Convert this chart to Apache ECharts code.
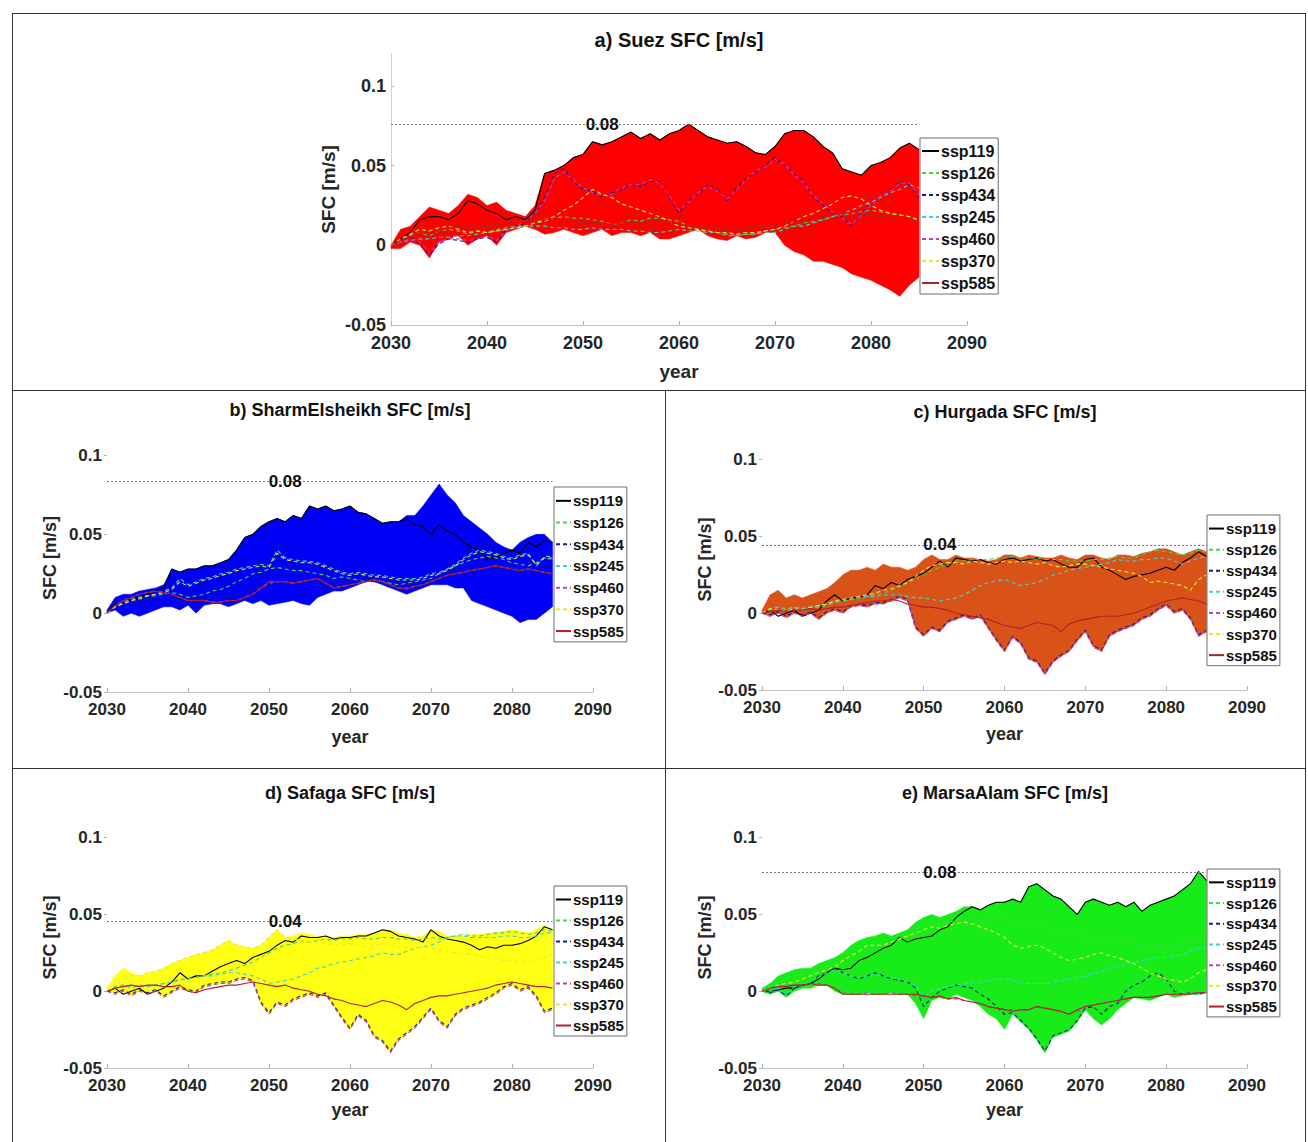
<!DOCTYPE html>
<html>
<head>
<meta charset="utf-8">
<script src="https://cdn.jsdelivr.net/npm/echarts@6/dist/echarts.min.js"></script>
<style>
html,body{margin:0;padding:0;background:#fff;}
#chart{width:1308px;height:1142px;}
</style>
</head>
<body>
<div id="chart"></div>
<script>
// ---------------- DATA ----------------
const years = [2030,2031,2032,2033,2034,2035,2036,2037,2038,2039,
  2040,2041,2042,2043,2044,2045,2046,2047,2048,2049,
  2050,2051,2052,2053,2054,2055,2056,2057,2058,2059,
  2060,2061,2062,2063,2064,2065,2066,2067,2068,2069,
  2070,2071,2072,2073,2074,2075,2076,2077,2078,2079,
  2080,2081,2082,2083,2084,2085];
const scenarioNames = ['ssp119','ssp126','ssp434','ssp245','ssp460','ssp370','ssp585'];
const xTicks = [2030,2040,2050,2060,2070,2080,2090];
const yTicks = [-0.05,0,0.05,0.1];

// a) Suez
const suezUpper = [0.000,0.010,0.012,0.018,0.024,0.022,0.020,0.025,0.032,0.030,
  0.025,0.027,0.022,0.020,0.018,0.025,0.045,0.047,0.050,0.055,
  0.057,0.065,0.063,0.065,0.068,0.071,0.067,0.070,0.066,0.070,
  0.072,0.076,0.072,0.068,0.066,0.064,0.065,0.062,0.058,0.057,
  0.062,0.070,0.072,0.072,0.068,0.062,0.058,0.048,0.046,0.044,
  0.050,0.052,0.055,0.061,0.064,0.060];
const suezLower = [-0.002,-0.002,0.002,0.000,-0.008,0.002,0.004,0.006,0.000,0.004,
  0.006,0.000,0.008,0.010,0.012,0.010,0.007,0.008,0.010,0.008,
  0.006,0.008,0.010,0.006,0.008,0.008,0.006,0.008,0.004,0.004,
  0.006,0.008,0.010,0.006,0.004,0.003,0.006,0.004,0.005,0.008,
  0.008,0.000,-0.004,-0.006,-0.010,-0.010,-0.012,-0.014,-0.018,-0.020,
  -0.022,-0.025,-0.028,-0.032,-0.025,-0.020];
const suez119 = [0.000,0.004,0.008,0.016,0.018,0.018,0.016,0.020,0.028,0.026,
  0.022,0.020,0.016,0.018,0.016,0.022,0.045,0.047,0.050,0.055,
  0.057,0.065,0.063,0.065,0.068,0.071,0.067,0.070,0.066,0.070,
  0.072,0.076,0.072,0.068,0.066,0.064,0.065,0.062,0.058,0.057,
  0.062,0.070,0.072,0.072,0.068,0.062,0.058,0.048,0.046,0.044,
  0.050,0.052,0.055,0.061,0.064,0.060];
const suez126 = [0.000,0.003,0.006,0.008,0.006,0.009,0.010,0.009,0.007,0.009,
  0.008,0.010,0.011,0.012,0.012,0.014,0.015,0.017,0.018,0.017,
  0.017,0.016,0.015,0.013,0.014,0.016,0.015,0.017,0.017,0.016,
  0.015,0.012,0.010,0.009,0.008,0.006,0.006,0.007,0.007,0.009,
  0.010,0.011,0.012,0.014,0.015,0.016,0.018,0.019,0.020,0.021,
  0.022,0.021,0.020,0.019,0.018,0.015];
const suez434 = [0.000,0.003,0.005,0.001,-0.006,0.001,0.004,0.003,0.002,0.004,
  0.005,0.002,0.010,0.012,0.014,0.020,0.030,0.045,0.048,0.040,
  0.035,0.034,0.030,0.033,0.035,0.038,0.037,0.040,0.040,0.030,
  0.020,0.028,0.032,0.038,0.035,0.028,0.036,0.042,0.046,0.050,
  0.055,0.050,0.045,0.040,0.030,0.025,0.020,0.018,0.012,0.020,
  0.026,0.030,0.035,0.040,0.038,0.030];
const suez245 = [0.000,0.002,0.003,0.004,0.004,0.005,0.005,0.006,0.006,0.007,
  0.008,0.009,0.010,0.011,0.012,0.012,0.012,0.011,0.011,0.010,
  0.010,0.011,0.010,0.010,0.010,0.009,0.009,0.008,0.008,0.009,
  0.010,0.009,0.009,0.008,0.008,0.007,0.006,0.007,0.007,0.008,
  0.008,0.010,0.012,0.012,0.014,0.016,0.018,0.020,0.022,0.025,
  0.027,0.030,0.033,0.035,0.038,0.036];
const suez460 = [0.000,0.002,0.004,0.002,-0.005,0.002,0.004,0.004,0.003,0.004,
  0.006,0.003,0.009,0.012,0.015,0.020,0.028,0.042,0.046,0.041,
  0.036,0.033,0.031,0.032,0.036,0.038,0.038,0.041,0.039,0.031,
  0.022,0.027,0.033,0.037,0.034,0.029,0.035,0.041,0.047,0.049,
  0.054,0.051,0.044,0.039,0.031,0.026,0.021,0.017,0.013,0.019,
  0.025,0.031,0.034,0.039,0.039,0.031];
const suez370 = [0.000,0.004,0.007,0.010,0.009,0.011,0.012,0.010,0.008,0.009,
  0.008,0.009,0.010,0.011,0.012,0.014,0.016,0.018,0.022,0.025,
  0.030,0.035,0.032,0.030,0.026,0.024,0.022,0.020,0.018,0.015,
  0.012,0.011,0.010,0.009,0.008,0.008,0.007,0.008,0.008,0.009,
  0.010,0.012,0.015,0.018,0.020,0.023,0.026,0.030,0.031,0.029,
  0.025,0.022,0.020,0.019,0.018,0.016];
const suez585 = [0.000,0.003,0.005,0.008,0.007,0.009,0.011,0.012,0.010,0.011,
  0.012,0.013,0.014,0.015,0.015,0.016,0.016,0.017,0.016,0.015,
  0.014,0.015,0.014,0.013,0.014,0.015,0.014,0.015,0.016,0.015,
  0.013,0.012,0.011,0.010,0.010,0.009,0.009,0.010,0.011,0.012,
  0.013,0.014,0.015,0.016,0.017,0.018,0.019,0.020,0.021,0.020,
  0.019,0.018,0.017,0.016,0.016,0.015];

// b) SharmElsheikh
const sharmUpper = [0.002,0.010,0.012,0.012,0.014,0.015,0.016,0.018,0.028,0.026,
  0.028,0.028,0.030,0.030,0.032,0.034,0.040,0.048,0.050,0.055,
  0.058,0.060,0.058,0.062,0.060,0.068,0.066,0.068,0.065,0.066,
  0.068,0.064,0.063,0.060,0.057,0.058,0.058,0.062,0.062,0.068,
  0.075,0.082,0.075,0.070,0.062,0.058,0.054,0.050,0.045,0.042,
  0.040,0.045,0.048,0.050,0.050,0.045];
const sharmLower = [0.000,0.002,-0.002,0.000,-0.002,0.000,0.002,0.004,0.004,0.002,
  0.005,0.000,0.005,0.006,0.006,0.004,0.006,0.008,0.006,0.008,
  0.005,0.006,0.007,0.008,0.006,0.005,0.010,0.012,0.014,0.014,
  0.016,0.018,0.020,0.020,0.018,0.016,0.014,0.012,0.014,0.016,
  0.018,0.018,0.018,0.016,0.016,0.008,0.006,0.004,0.002,0.000,
  -0.002,-0.006,-0.004,-0.004,0.000,0.004];
const sharm119 = [0.000,0.006,0.006,0.008,0.010,0.012,0.014,0.016,0.028,0.026,
  0.028,0.028,0.030,0.030,0.032,0.034,0.040,0.048,0.050,0.055,
  0.058,0.060,0.058,0.062,0.060,0.068,0.066,0.068,0.065,0.066,
  0.068,0.064,0.063,0.060,0.057,0.058,0.058,0.060,0.056,0.055,
  0.050,0.056,0.052,0.050,0.045,0.042,0.040,0.034,0.035,0.038,
  0.040,0.038,0.045,0.042,0.046,0.045];
const sharm126 = [0.000,0.004,0.007,0.009,0.010,0.011,0.011,0.012,0.013,0.012,
  0.010,0.011,0.012,0.014,0.015,0.017,0.020,0.022,0.025,0.026,
  0.028,0.029,0.028,0.027,0.027,0.026,0.025,0.024,0.022,0.023,
  0.022,0.021,0.020,0.021,0.020,0.019,0.018,0.019,0.020,0.021,
  0.022,0.025,0.028,0.030,0.032,0.034,0.035,0.036,0.035,0.034,
  0.032,0.031,0.030,0.032,0.035,0.034];
const sharm434 = [0.000,0.005,0.006,0.007,0.008,0.009,0.010,0.010,0.011,0.010,
  0.009,0.008,0.009,0.010,0.010,0.011,0.012,0.014,0.015,0.016,
  0.018,0.019,0.019,0.020,0.021,0.021,0.020,0.019,0.018,0.019,
  0.020,0.021,0.021,0.020,0.019,0.018,0.017,0.018,0.019,0.020,
  0.021,0.023,0.025,0.026,0.027,0.028,0.029,0.030,0.031,0.030,
  0.029,0.028,0.028,0.027,0.026,0.025];
const sharm245 = [0.000,0.004,0.006,0.008,0.010,0.011,0.012,0.014,0.016,0.022,
  0.018,0.020,0.022,0.023,0.025,0.026,0.028,0.029,0.030,0.031,
  0.030,0.040,0.035,0.034,0.033,0.033,0.032,0.030,0.028,0.026,
  0.025,0.026,0.025,0.024,0.024,0.023,0.022,0.022,0.022,0.023,
  0.025,0.026,0.028,0.031,0.035,0.038,0.040,0.039,0.038,0.036,
  0.035,0.037,0.038,0.030,0.036,0.036];
const sharm460 = [0.000,0.005,0.008,0.010,0.012,0.013,0.014,0.013,0.012,0.010,
  0.008,0.008,0.008,0.007,0.007,0.008,0.008,0.010,0.012,0.016,
  0.019,0.020,0.020,0.019,0.020,0.021,0.022,0.019,0.016,0.017,
  0.018,0.019,0.020,0.021,0.020,0.018,0.016,0.016,0.017,0.018,
  0.020,0.022,0.024,0.025,0.026,0.027,0.028,0.029,0.030,0.029,
  0.028,0.027,0.028,0.027,0.026,0.025];
const sharm370 = [0.000,0.004,0.006,0.008,0.009,0.011,0.012,0.013,0.015,0.020,
  0.017,0.019,0.021,0.022,0.024,0.025,0.027,0.028,0.029,0.030,
  0.029,0.038,0.034,0.033,0.032,0.032,0.031,0.029,0.027,0.025,
  0.024,0.025,0.024,0.023,0.023,0.022,0.021,0.021,0.021,0.022,
  0.024,0.025,0.027,0.030,0.034,0.037,0.039,0.038,0.037,0.035,
  0.034,0.036,0.037,0.031,0.035,0.035];
const sharm585 = [0.000,0.005,0.008,0.010,0.012,0.013,0.014,0.013,0.012,0.010,
  0.008,0.008,0.008,0.007,0.007,0.008,0.008,0.010,0.012,0.016,
  0.020,0.020,0.020,0.019,0.020,0.021,0.022,0.019,0.016,0.017,
  0.018,0.019,0.020,0.021,0.020,0.018,0.016,0.015,0.017,0.018,
  0.020,0.022,0.024,0.025,0.026,0.027,0.028,0.029,0.030,0.029,
  0.028,0.027,0.028,0.027,0.026,0.025];

// c) Hurgada
const hurgUpper = [0.002,0.012,0.015,0.010,0.012,0.010,0.012,0.014,0.016,0.020,
  0.025,0.028,0.028,0.030,0.028,0.032,0.030,0.030,0.028,0.030,
  0.035,0.038,0.035,0.035,0.038,0.036,0.036,0.035,0.034,0.035,
  0.038,0.038,0.036,0.038,0.037,0.036,0.036,0.038,0.036,0.035,
  0.038,0.038,0.036,0.035,0.038,0.038,0.037,0.039,0.040,0.042,
  0.042,0.040,0.038,0.040,0.042,0.040];
const hurgLower = [0.000,-0.002,0.000,-0.003,0.000,-0.002,0.000,-0.004,0.000,0.002,
  0.000,0.004,0.005,0.004,0.006,0.006,0.008,0.010,0.008,-0.010,
  -0.015,-0.010,-0.012,-0.006,-0.004,-0.002,-0.004,-0.002,-0.010,-0.018,
  -0.025,-0.016,-0.020,-0.030,-0.032,-0.040,-0.032,-0.028,-0.025,-0.018,
  -0.012,-0.022,-0.025,-0.015,-0.012,-0.010,-0.008,-0.004,-0.002,0.002,
  0.005,0.000,0.002,-0.004,-0.015,-0.012];
const hurg119 = [0.000,0.002,-0.002,0.000,0.002,-0.002,0.000,0.002,0.008,0.012,
  0.008,0.010,0.010,0.012,0.018,0.016,0.020,0.018,0.022,0.024,
  0.026,0.030,0.034,0.030,0.036,0.035,0.034,0.035,0.033,0.032,
  0.035,0.036,0.034,0.035,0.036,0.034,0.035,0.032,0.030,0.030,
  0.035,0.036,0.030,0.028,0.025,0.022,0.024,0.025,0.026,0.028,
  0.030,0.028,0.033,0.036,0.040,0.037];
const hurg126 = [0.000,0.002,0.004,0.003,0.004,0.003,0.004,0.005,0.006,0.008,
  0.008,0.009,0.010,0.011,0.012,0.013,0.015,0.017,0.020,0.022,
  0.025,0.028,0.030,0.032,0.034,0.034,0.035,0.035,0.035,0.036,
  0.036,0.037,0.036,0.036,0.036,0.035,0.035,0.035,0.034,0.034,
  0.034,0.035,0.035,0.036,0.037,0.036,0.036,0.038,0.040,0.041,
  0.040,0.039,0.038,0.039,0.041,0.040];
const hurg434 = [0.000,-0.001,0.001,-0.002,0.001,-0.001,0.001,-0.003,0.001,0.003,
  0.001,0.005,0.006,0.005,0.007,0.007,0.009,0.011,0.009,-0.009,
  -0.014,-0.009,-0.011,-0.005,-0.003,-0.001,-0.003,-0.001,-0.009,-0.017,
  -0.024,-0.015,-0.019,-0.029,-0.031,-0.039,-0.031,-0.027,-0.024,-0.017,
  -0.011,-0.021,-0.024,-0.014,-0.011,-0.009,-0.007,-0.003,-0.001,0.003,
  0.006,0.001,0.003,-0.003,-0.014,-0.011];
const hurg245 = [0.000,0.003,0.004,0.002,0.004,0.003,0.004,0.004,0.005,0.007,
  0.008,0.009,0.010,0.011,0.011,0.012,0.012,0.012,0.011,0.010,
  0.010,0.009,0.008,0.009,0.010,0.012,0.015,0.018,0.020,0.021,
  0.022,0.020,0.018,0.019,0.020,0.022,0.025,0.026,0.028,0.029,
  0.030,0.031,0.032,0.033,0.035,0.034,0.034,0.035,0.035,0.036,
  0.036,0.034,0.032,0.034,0.036,0.037];
const hurg460 = [0.000,-0.002,0.000,-0.003,0.000,-0.002,0.000,-0.004,0.000,0.002,
  0.000,0.004,0.005,0.004,0.006,0.006,0.008,0.010,0.008,-0.010,
  -0.015,-0.010,-0.012,-0.006,-0.004,-0.002,-0.004,-0.002,-0.010,-0.018,
  -0.025,-0.016,-0.020,-0.030,-0.032,-0.040,-0.032,-0.028,-0.025,-0.018,
  -0.012,-0.022,-0.025,-0.015,-0.012,-0.010,-0.008,-0.004,-0.002,0.002,
  0.005,0.000,0.002,-0.004,-0.015,-0.012];
const hurg370 = [0.000,0.003,0.002,0.001,0.003,0.002,0.004,0.005,0.006,0.008,
  0.009,0.010,0.011,0.012,0.013,0.015,0.016,0.018,0.020,0.024,
  0.028,0.031,0.032,0.033,0.033,0.032,0.034,0.033,0.032,0.033,
  0.034,0.033,0.034,0.033,0.032,0.033,0.031,0.030,0.031,0.032,
  0.032,0.031,0.030,0.029,0.028,0.027,0.026,0.024,0.020,0.021,
  0.020,0.019,0.018,0.015,0.022,0.025];
const hurg585 = [0.000,0.001,0.002,0.001,0.002,0.002,0.003,0.002,0.003,0.004,
  0.004,0.005,0.006,0.007,0.008,0.008,0.009,0.008,0.006,0.005,
  0.004,0.004,0.003,0.002,0.000,-0.001,-0.002,-0.003,-0.004,-0.006,
  -0.008,-0.009,-0.010,-0.008,-0.006,-0.007,-0.008,-0.012,-0.007,-0.005,
  -0.004,-0.003,-0.002,-0.002,-0.002,-0.001,0.000,0.002,0.004,0.006,
  0.008,0.009,0.010,0.009,0.008,0.006];

// d) Safaga
const safUpper = [0.002,0.010,0.015,0.012,0.010,0.012,0.013,0.015,0.018,0.020,
  0.022,0.024,0.025,0.027,0.030,0.033,0.030,0.029,0.028,0.030,
  0.035,0.040,0.035,0.036,0.038,0.037,0.036,0.036,0.035,0.036,
  0.036,0.037,0.037,0.038,0.040,0.040,0.038,0.037,0.035,0.036,
  0.040,0.039,0.036,0.036,0.036,0.037,0.037,0.038,0.038,0.039,
  0.040,0.039,0.038,0.040,0.043,0.040];
const safLower = [0.000,-0.002,0.000,-0.003,0.000,-0.002,0.000,-0.004,-0.001,0.002,
  0.000,-0.001,0.003,0.004,0.005,0.005,0.007,0.008,0.006,-0.008,
  -0.015,-0.008,-0.010,-0.006,-0.004,-0.002,-0.004,-0.002,-0.010,-0.018,
  -0.025,-0.016,-0.020,-0.030,-0.033,-0.040,-0.032,-0.028,-0.024,-0.018,
  -0.012,-0.020,-0.024,-0.016,-0.012,-0.010,-0.008,-0.005,-0.002,0.002,
  0.004,0.000,0.002,-0.004,-0.014,-0.012];
const saf119 = [0.000,0.002,-0.002,0.000,0.002,-0.002,0.000,0.002,0.006,0.012,
  0.008,0.010,0.010,0.013,0.016,0.018,0.020,0.018,0.022,0.024,
  0.026,0.030,0.033,0.032,0.036,0.035,0.035,0.036,0.034,0.035,
  0.035,0.036,0.036,0.038,0.040,0.039,0.036,0.035,0.034,0.032,
  0.040,0.036,0.034,0.033,0.032,0.030,0.027,0.029,0.028,0.030,
  0.030,0.031,0.033,0.036,0.042,0.040];
const saf126 = [0.000,0.003,0.004,0.003,0.004,0.003,0.004,0.005,0.006,0.008,
  0.008,0.009,0.010,0.011,0.012,0.013,0.015,0.017,0.019,0.022,
  0.025,0.028,0.030,0.031,0.033,0.032,0.033,0.034,0.033,0.034,
  0.034,0.035,0.034,0.034,0.035,0.035,0.034,0.034,0.033,0.034,
  0.035,0.034,0.035,0.036,0.037,0.036,0.036,0.037,0.038,0.038,
  0.039,0.038,0.037,0.038,0.040,0.039];
const saf434 = [0.000,-0.001,0.001,-0.002,0.001,-0.001,0.001,-0.003,0.000,0.003,
  0.001,0.000,0.004,0.005,0.006,0.006,0.008,0.009,0.007,-0.007,
  -0.014,-0.007,-0.009,-0.005,-0.003,-0.001,-0.003,-0.001,-0.009,-0.017,
  -0.024,-0.015,-0.019,-0.029,-0.032,-0.039,-0.031,-0.027,-0.023,-0.017,
  -0.011,-0.019,-0.023,-0.015,-0.011,-0.009,-0.007,-0.004,-0.001,0.003,
  0.005,0.001,0.003,-0.003,-0.013,-0.011];
const saf245 = [0.000,0.003,0.004,0.002,0.004,0.003,0.004,0.005,0.006,0.007,
  0.008,0.009,0.010,0.010,0.011,0.012,0.012,0.011,0.010,0.008,
  0.005,0.006,0.007,0.008,0.010,0.012,0.015,0.016,0.018,0.019,
  0.020,0.021,0.022,0.023,0.025,0.024,0.024,0.026,0.028,0.029,
  0.030,0.032,0.035,0.036,0.036,0.035,0.035,0.035,0.035,0.036,
  0.036,0.035,0.035,0.036,0.038,0.038];
const saf460 = [0.000,-0.002,0.000,-0.003,0.000,-0.002,0.000,-0.004,-0.001,0.002,
  0.000,-0.001,0.003,0.004,0.005,0.005,0.007,0.008,0.006,-0.008,
  -0.015,-0.008,-0.010,-0.006,-0.004,-0.002,-0.004,-0.002,-0.010,-0.018,
  -0.025,-0.016,-0.020,-0.030,-0.033,-0.040,-0.032,-0.028,-0.024,-0.018,
  -0.012,-0.020,-0.024,-0.016,-0.012,-0.010,-0.008,-0.005,-0.002,0.002,
  0.004,0.000,0.002,-0.004,-0.014,-0.012];
const saf370 = [0.000,0.004,0.008,0.010,0.010,0.012,0.013,0.015,0.018,0.020,
  0.022,0.024,0.025,0.027,0.030,0.033,0.030,0.029,0.028,0.030,
  0.035,0.040,0.035,0.034,0.033,0.032,0.032,0.031,0.030,0.030,
  0.031,0.030,0.029,0.030,0.031,0.030,0.029,0.028,0.028,0.029,
  0.028,0.027,0.026,0.025,0.024,0.024,0.023,0.022,0.021,0.020,
  0.020,0.019,0.019,0.020,0.022,0.024];
const saf585 = [0.000,0.002,0.003,0.004,0.003,0.004,0.004,0.003,0.003,0.004,
  0.000,-0.001,0.001,0.002,0.003,0.004,0.004,0.005,0.006,0.005,
  0.004,0.003,0.004,0.002,0.001,0.000,-0.002,-0.003,-0.005,-0.006,
  -0.008,-0.009,-0.010,-0.008,-0.006,-0.007,-0.009,-0.012,-0.008,-0.006,
  -0.004,-0.003,-0.003,-0.002,-0.001,0.000,0.001,0.002,0.004,0.005,
  0.006,0.005,0.004,0.003,0.003,0.002];

// e) MarsaAlam
const marsaUpper = [0.002,0.005,0.010,0.012,0.014,0.015,0.015,0.018,0.020,0.022,
  0.025,0.030,0.033,0.035,0.036,0.038,0.036,0.038,0.040,0.045,
  0.048,0.050,0.048,0.050,0.052,0.055,0.055,0.053,0.056,0.058,
  0.058,0.060,0.058,0.068,0.070,0.066,0.062,0.060,0.055,0.050,
  0.058,0.060,0.058,0.056,0.058,0.055,0.058,0.052,0.056,0.058,
  0.060,0.062,0.066,0.070,0.078,0.072];
const marsaLower = [0.000,-0.002,0.000,-0.004,0.000,0.002,0.002,0.004,0.004,0.000,
  -0.002,-0.002,-0.002,-0.001,-0.002,-0.002,-0.001,-0.002,-0.002,-0.008,
  -0.018,-0.006,-0.004,-0.005,-0.002,-0.004,-0.006,-0.010,-0.015,-0.018,
  -0.025,-0.015,-0.020,-0.025,-0.032,-0.040,-0.030,-0.028,-0.026,-0.020,
  -0.012,-0.018,-0.022,-0.018,-0.012,-0.008,-0.004,-0.005,-0.006,-0.004,
  -0.002,-0.004,-0.003,-0.002,-0.002,-0.001];
const marsa119 = [0.000,0.000,0.001,0.002,0.002,0.004,0.005,0.008,0.012,0.015,
  0.014,0.015,0.020,0.022,0.025,0.028,0.030,0.035,0.032,0.034,
  0.035,0.036,0.040,0.042,0.048,0.052,0.055,0.053,0.056,0.058,
  0.058,0.060,0.058,0.068,0.070,0.066,0.062,0.060,0.055,0.050,
  0.058,0.060,0.058,0.056,0.058,0.055,0.058,0.052,0.056,0.058,
  0.060,0.062,0.066,0.070,0.078,0.072];
const marsa126 = [0.000,0.003,0.006,0.008,0.010,0.011,0.012,0.014,0.016,0.018,
  0.020,0.024,0.026,0.028,0.030,0.031,0.032,0.034,0.036,0.040,
  0.043,0.045,0.044,0.045,0.046,0.048,0.047,0.046,0.047,0.048,
  0.047,0.046,0.045,0.044,0.043,0.042,0.040,0.039,0.038,0.037,
  0.036,0.035,0.034,0.034,0.033,0.032,0.031,0.030,0.030,0.029,
  0.029,0.030,0.031,0.032,0.033,0.033];
const marsa434 = [0.000,-0.001,0.001,-0.003,0.002,0.004,0.005,0.010,0.012,0.015,
  0.012,0.010,0.008,0.010,0.012,0.010,0.008,0.007,0.006,0.002,
  -0.010,-0.004,0.000,0.002,0.004,0.003,0.002,-0.002,-0.005,-0.010,
  -0.015,-0.014,-0.019,-0.024,-0.031,-0.039,-0.029,-0.027,-0.025,-0.019,
  -0.011,-0.010,-0.015,-0.010,-0.008,0.000,0.004,0.006,0.010,0.012,
  0.008,0.000,-0.002,-0.001,-0.002,-0.001];
const marsa245 = [0.000,0.000,0.002,-0.002,0.003,0.004,0.006,0.009,0.012,0.014,
  0.012,0.010,0.009,0.010,0.011,0.010,0.009,0.008,0.006,0.004,
  -0.004,0.000,0.002,0.003,0.004,0.005,0.006,0.006,0.007,0.008,
  0.008,0.007,0.006,0.005,0.005,0.005,0.006,0.007,0.008,0.009,
  0.010,0.012,0.013,0.015,0.016,0.018,0.019,0.020,0.021,0.022,
  0.022,0.023,0.024,0.026,0.028,0.028];
const marsa460 = [0.000,0.002,0.003,0.004,0.004,0.004,0.005,0.005,0.004,0.002,
  -0.001,-0.002,-0.002,-0.001,-0.002,-0.002,-0.001,-0.002,-0.002,-0.003,
  -0.003,-0.004,-0.004,-0.005,-0.005,-0.006,-0.007,-0.008,-0.010,-0.011,
  -0.012,-0.012,-0.013,-0.012,-0.010,-0.011,-0.012,-0.014,-0.015,-0.013,
  -0.010,-0.009,-0.008,-0.007,-0.006,-0.005,-0.004,-0.004,-0.004,-0.003,
  -0.002,-0.002,-0.002,-0.001,-0.001,-0.001];
const marsa370 = [0.000,0.002,0.004,0.005,0.006,0.008,0.010,0.012,0.014,0.016,
  0.020,0.023,0.026,0.030,0.030,0.030,0.032,0.034,0.036,0.038,
  0.040,0.042,0.041,0.043,0.044,0.045,0.044,0.042,0.040,0.038,
  0.035,0.030,0.028,0.029,0.030,0.028,0.025,0.022,0.020,0.021,
  0.022,0.024,0.025,0.023,0.022,0.020,0.018,0.015,0.012,0.010,
  0.008,0.007,0.006,0.008,0.012,0.014];
const marsa585 = [0.000,0.002,0.003,0.003,0.004,0.004,0.005,0.004,0.004,0.002,
  -0.002,-0.002,-0.002,-0.002,-0.002,-0.002,-0.002,-0.002,-0.002,-0.002,
  -0.003,-0.004,-0.003,-0.005,-0.004,-0.006,-0.007,-0.008,-0.010,-0.011,
  -0.012,-0.013,-0.012,-0.012,-0.010,-0.011,-0.012,-0.013,-0.015,-0.012,
  -0.010,-0.009,-0.008,-0.007,-0.006,-0.005,-0.004,-0.004,-0.004,-0.003,
  -0.002,-0.002,-0.002,-0.002,-0.001,-0.001];

// reference (maximum) lines and their labels
const refValues = [0.076, 0.0835, 0.0445, 0.0455, 0.0773];
const refLabels = ['0.08', '0.08', '0.04', '0.04', '0.08'];
const refLabelYear = 2052;
const titles = ['a) Suez SFC [m/s]', 'b) SharmElsheikh SFC [m/s]', 'c) Hurgada SFC [m/s]',
                'd) Safaga SFC [m/s]', 'e) MarsaAlam SFC [m/s]'];

// ---------------- STYLE / LAYOUT ----------------
const FONT = '"Liberation Sans", Arial, Helvetica, sans-serif';
const lineStyles = [
  {color:'#000000', type:'solid'},
  {color:'#4CD24C', type:[4,3]},
  {color:'#1B1B8F', type:[4,3]},
  {color:'#3CD2D2', type:[4,3]},
  {color:'#C040C0', type:[4,3]},
  {color:'#E8E830', type:[4,3]},
  {color:'#B0202A', type:'solid'}
];
const panels = [
  {upper:suezUpper, lower:suezLower, lines:[suez119,suez126,suez434,suez245,suez460,suez370,suez585],
   fill:'#FF0000', grid:{left:391,top:54,width:576,height:271}, title:[679,40], tfs:20, lfs:18, nfs:19,
   yGap:53, xGap:37, yLine:true,
   legend:{left:920, top:138, fs:16, lh:22, iw:17, pad:[2,3,0,1]}},
  {upper:sharmUpper, lower:sharmLower, lines:[sharm119,sharm126,sharm434,sharm245,sharm460,sharm370,sharm585],
   fill:'#0000F5', grid:{left:107,top:424,width:486,height:268}, title:[350,410], tfs:18, lfs:17, nfs:18,
   yGap:43, xGap:36, yLine:false,
   legend:{left:554, top:487, fs:15, lh:21.7, iw:15, pad:[3,3,0,1]}},
  {upper:hurgUpper, lower:hurgLower, lines:[hurg119,hurg126,hurg434,hurg245,hurg460,hurg370,hurg585],
   fill:'#D95319', grid:{left:762,top:429,width:485,height:261}, title:[1005,412], tfs:18, lfs:17, nfs:18,
   yGap:45, xGap:35, yLine:false,
   legend:{left:1207, top:515, fs:15, lh:21.1, iw:15, pad:[3,3,0,1]}},
  {upper:safUpper, lower:safLower, lines:[saf119,saf126,saf434,saf245,saf460,saf370,saf585],
   fill:'#FFFF14', grid:{left:107,top:807,width:486,height:261}, title:[350,793], tfs:18, lfs:17, nfs:18,
   yGap:43, xGap:33, yLine:false,
   legend:{left:554, top:886, fs:15, lh:21, iw:15, pad:[3,3,0,1]}},
  {upper:marsaUpper, lower:marsaLower, lines:[marsa119,marsa126,marsa434,marsa245,marsa460,marsa370,marsa585],
   fill:'#18EC18', grid:{left:762,top:807,width:485,height:261}, title:[1005,793], tfs:18, lfs:17, nfs:18,
   yGap:45, xGap:33, yLine:false,
   legend:{left:1207, top:869, fs:15, lh:20.7, iw:15, pad:[3,3,0,1]}}
];

// ---------------- BUILD OPTION ----------------
const grids = [], xAxes = [], yAxes = [], series = [], legends = [], graphics = [];
const fmtY = v => String(+(+v).toFixed(3));

panels.forEach((p, i) => {
  grids.push(Object.assign({containLabel:false}, p.grid));
  xAxes.push({
    type:'value', gridIndex:i, min:xTicks[0], max:xTicks[xTicks.length-1], interval:10,
    axisLine:{show:true, onZero:false, lineStyle:{color:'#c4c4c4', width:1}},
    axisTick:{show:true, inside:true, length:4, lineStyle:{color:'#b0b0b0'}},
    splitLine:{show:false},
    axisLabel:{color:'#262626', fontWeight:'bold', fontSize:p.lfs, fontFamily:FONT, margin:9,
      formatter: v => String(v)},
    name:'year', nameLocation:'middle', nameGap:p.xGap,
    nameTextStyle:{color:'#262626', fontWeight:'bold', fontSize:p.nfs, fontFamily:FONT}
  });
  yAxes.push({
    type:'value', gridIndex:i, min:-0.05, max:0.12, interval:0.05,
    axisLine:{show:p.yLine, onZero:false, lineStyle:{color:'#d0d0d0', width:1}},
    axisTick:{show:true, inside:p.yLine, length:3, lineStyle:{color:'#b0b0b0'}},
    splitLine:{show:false},
    axisLabel:{color:'#262626', fontWeight:'bold', fontSize:p.lfs, fontFamily:FONT, margin:5,
      showMaxLabel:false, formatter: v => yTicks.some(t => Math.abs(t - v) < 1e-9) ? fmtY(v) : ''},
    name:'SFC [m/s]', nameLocation:'middle', nameGap:p.yGap, nameRotate:90,
    nameTextStyle:{color:'#262626', fontWeight:'bold', fontSize:p.nfs, fontFamily:FONT}
  });

  // envelope band: polygon between lower and upper bounds, placed through the axes
  const up = p.upper, lo = p.lower, fill = p.fill;
  series.push({
    type:'custom', xAxisIndex:i, yAxisIndex:i, silent:true, z:1, animation:false,
    data: years.map((y,k) => [y, lo[k], up[k]]),
    encode:{x:0, y:[1,2]},
    renderItem: (params, api) => {
      if (params.dataIndex !== 0) return null;
      const pts = [];
      for (let k = 0; k < years.length; k++) pts.push(api.coord([years[k], up[k]]));
      for (let k = years.length - 1; k >= 0; k--) pts.push(api.coord([years[k], lo[k]]));
      return {type:'polygon', shape:{points:pts}, style:{fill:fill, stroke:fill, lineWidth:0.5}};
    }
  });

  // scenario lines
  p.lines.forEach((arr, j) => {
    const s = {
      type:'line', name:scenarioNames[j], xAxisIndex:i, yAxisIndex:i,
      data: years.map((y,k) => [y, arr[k]]), symbol:'none', showSymbol:false,
      lineStyle:{color:lineStyles[j].color, type:lineStyles[j].type, width:1.1},
      itemStyle:{color:lineStyles[j].color}, z:3, animation:false
    };
    if (j === 0) {
      s.markLine = {
        silent:true, symbol:['none','none'], animation:false,
        lineStyle:{color:'#7a7a7a', type:[2,2], width:1},
        label:{show:false},
        data:[[{coord:[years[0], refValues[i]]}, {coord:[years[years.length-1], refValues[i]]}]]
      };
      s.markPoint = {
        silent:true, animation:false, symbol:'circle', symbolSize:1,
        itemStyle:{color:'rgba(0,0,0,0)'},
        label:{show:true, position:'inside', formatter: refLabels[i], color:'#111',
          fontWeight:'bold', fontSize:17, fontFamily:FONT},
        data:[{coord:[refLabelYear, refValues[i]]}]
      };
    }
    series.push(s);
  });

  legends.push({
    data: scenarioNames, orient:'vertical', left:p.legend.left, top:p.legend.top,
    itemWidth:p.legend.iw, itemHeight:8, itemGap:0, padding:p.legend.pad,
    backgroundColor:'#ffffff', borderColor:'#6e6e6e', borderWidth:1, selectedMode:false,
    itemStyle:{opacity:0, color:'rgba(0,0,0,0)', borderWidth:0},
    textStyle:{color:'#111', fontWeight:'bold', fontSize:p.legend.fs, fontFamily:FONT,
      lineHeight:p.legend.lh, padding:[0,0,0,-3]}
  });

  graphics.push({
    type:'text', x:p.title[0], y:p.title[1], z:10,
    style:{text:titles[i], textAlign:'center', textVerticalAlign:'middle',
      font:'bold ' + p.tfs + 'px ' + FONT, fill:'#111'}
  });
});

// panel frame lines
const frameLines = [
  [12,13.5,1306,13.5],[12.5,13,12.5,1142],[1305.5,13,1305.5,1142],
  [12,390.5,1306,390.5],[665.5,390,665.5,1142],[12,768.5,1306,768.5]
];
frameLines.forEach(l => graphics.push({
  type:'line', shape:{x1:l[0],y1:l[1],x2:l[2],y2:l[3]}, z:0,
  style:{stroke:'#333', lineWidth:1}
}));

const chart = echarts.init(document.getElementById('chart'), null, {renderer:'svg'});
chart.setOption({
  animation:false,
  backgroundColor:'#ffffff',
  grid:grids, xAxis:xAxes, yAxis:yAxes, series:series, legend:legends, graphic:graphics
});
</script>
</body>
</html>
